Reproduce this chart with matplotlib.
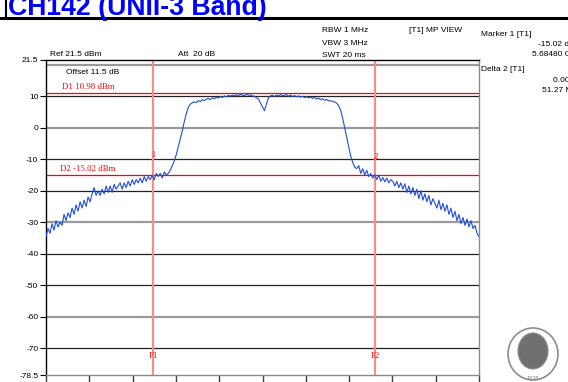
import numpy as np
import matplotlib.pyplot as plt
from matplotlib.patches import Ellipse
from matplotlib.lines import Line2D

f_start, f_stop = 5660.0, 5760.0
level = [
    -34.5, -32.0, -33.5, -30.5, -32.5, -29.5, -31.5, -30.0, -31.0, -27.5,
    -29.5, -27.0, -28.5, -25.5, -27.5, -24.5, -26.5, -23.5, -25.5, -23.0,
    -25.0, -22.0, -23.5, -21.0, -19.0, -21.5, -20.0, -21.5, -19.5, -21.0,
    -18.5, -20.5, -18.5, -20.5, -18.0, -19.5, -18.5, -17.5, -19.5, -17.5,
    -19.0, -17.0, -18.5, -16.5, -18.0, -16.5, -17.5, -16.0, -17.5, -15.5,
    -17.0, -15.5, -16.5, -15.0, -16.5, -14.5, -15.5, -14.5, -16.0, -14.0,
    -15.0, -14.5, -13.5, -12.0, -10.5, -8.5, -6.0, -3.5, -1.0, 2.0,
    4.5, 6.5, 7.5, 7.9, 8.2, 8.0, 8.6, 8.3, 8.9, 8.6,
    9.1, 9.3, 8.9, 9.5, 9.2, 9.7, 9.4, 9.9, 9.6, 10.1,
    9.8, 10.3, 10.0, 10.4, 10.1, 10.5, 10.2, 10.6, 10.3, 10.2,
    10.6, 10.3, 10.4, 10.1, 10.0, 9.5, 9.1, 7.8, 6.6, 5.4,
    7.6, 9.5, 10.1, 10.3, 9.9, 10.4, 10.1, 10.5, 10.2, 10.3,
    10.5, 10.0, 10.4, 9.9, 10.2, 9.8, 10.1, 9.7, 10.0, 9.6,
    9.8, 9.5, 9.7, 9.3, 9.6, 9.1, 9.4, 8.9, 9.2, 8.7,
    9.0, 8.5, 8.6, 8.3, 8.2, 7.8, 7.0, 5.5, 3.0, 0.0,
    -3.0, -6.0, -9.0, -11.0, -12.5, -13.0, -12.0, -14.5, -13.0, -15.0,
    -13.5, -15.5, -14.5, -16.0, -14.8, -16.5, -15.0, -17.0, -15.8, -17.2,
    -16.0, -17.5, -16.5, -17.0, -18.5, -17.0, -19.0, -17.5, -19.5, -17.8,
    -20.5, -18.5, -21.0, -19.0, -21.5, -19.5, -22.5, -20.0, -23.0, -21.0,
    -23.5, -21.5, -24.5, -22.5, -24.0, -25.5, -23.0, -26.0, -24.0, -26.5,
    -24.5, -27.5, -25.5, -28.5, -26.5, -29.5, -27.5, -30.5, -28.5, -31.0,
    -29.0, -31.5, -29.5, -32.0, -31.0, -33.5, -34.5,
]
freq = np.linspace(f_start, f_stop, len(level))

y_ticks = [21.5, 10, 0, -10, -20, -30, -40, -50, -60, -70, -78.5]
y_labels = ["21.5", "10", "0", "-10", "-20", "-30", "-40", "-50", "-60", "-70", "-78.5"]
grid_dark = [10, -10, -20, -40, -50, -70]
grid_gray = [20, 0, -30, -60]

d1_level = 10.98
d2_level = -15.02
f1 = 5684.8
f2 = f1 + 51.27

W, H = 568, 382
fig = plt.figure(figsize=(W / 100, H / 100), dpi=100)
ax = fig.add_axes([46 / W, 7 / H, 433 / W, 315 / H])
ax.set_xlim(f_start, f_stop)
ax.set_ylim(-78.5, 21.5)

for g in grid_gray:
    ax.axhline(g, color="#9a9a9a", lw=1.6, zorder=1)
for g in grid_dark:
    ax.axhline(g, color="#222222", lw=0.9, zorder=1)

# display lines and frequency lines
ax.axhline(d1_level, color="#ff0000", lw=0.9, zorder=2)
ax.axhline(d2_level, color="#ff0000", lw=0.9, zorder=2)
ax.axvline(f1, color="#ff8a8a", lw=1.5, zorder=2)
ax.axvline(f2, color="#ff8a8a", lw=1.5, zorder=2)

ax.plot(freq, level, color="#1f4fd8", lw=0.8, zorder=3)

serif = "Liberation Serif"
ax.text(f_start + 3.6, d1_level + 0.6, "D1 10.98 dBm", color="#ff0000",
        family=serif, fontsize=6.3, va="bottom")
ax.text(f_start + 3.2, d2_level + 0.6, "D2 -15.02 dBm", color="#ff0000",
        family=serif, fontsize=6.3, va="bottom")
ax.text(f1, -72.5, "F1", color="#ff0000", family=serif, fontsize=6.3,
        ha="center", va="center")
ax.text(f2, -72.5, "F2", color="#ff0000", family=serif, fontsize=6.3,
        ha="center", va="center")
ax.text(f1, -9.8, "1", color="#cc0000", family=serif, fontsize=5.5,
        ha="center", va="bottom")
ax.text(f2, -10.5, "2", color="#ff0000", family=serif, fontsize=6.3,
        ha="center", va="bottom")
ax.text(f_start + 4.6, 17.2, "Offset 11.5 dB", family="Liberation Sans",
        fontsize=6, va="baseline")

ax.set_yticks(y_ticks)
ax.set_yticklabels(y_labels, fontsize=6, family="Liberation Sans")
ax.set_xticks(np.arange(f_start, f_stop + 1, 10))
ax.set_xticklabels([])
ax.tick_params(axis="y", length=4, width=0.8, pad=1.5)
ax.tick_params(axis="x", length=7, width=1.0, color="#404040")

ax.spines["left"].set_color("#000000")
ax.spines["top"].set_color("#000000")
ax.spines["right"].set_color("#8a8a8a")
ax.spines["bottom"].set_color("#8a8a8a")
for s in ax.spines.values():
    s.set_linewidth(1.0)


def ftext(x, y, s, **kw):
    # x, y in pixels from top-left
    fig.text(x / W, 1 - y / H, s, va="baseline", family="Liberation Sans",
             fontsize=6, **kw)


# title, partly cut off at the top of the page (as in the screenshot)
fig.text(8 / W, 1 - 15 / H, "CH142 (UNII-3 Band)", color="#0000ff",
         fontsize=19.2, fontweight="bold", family="Liberation Sans",
         va="baseline")
fig.add_artist(Line2D([6 / W, 6 / W], [1.0, 1 - 17 / H], color="black",
                      lw=1.5, transform=fig.transFigure))
fig.add_artist(Line2D([0, 1], [1 - 17.5 / H, 1 - 17.5 / H], color="black",
                      lw=2.2, transform=fig.transFigure))

ftext(50, 56.5, "Ref 21.5 dBm")
ftext(178, 56.5, "Att  20 dB")
ftext(322.5, 32.5, "RBW 1 MHz")
ftext(322.5, 44.8, "VBW 3 MHz")
ftext(322.5, 57, "SWT 20 ms")
ftext(409, 32.5, "[T1] MP VIEW")
ftext(481, 36, "Marker 1 [T1]")
ftext(538, 46.5, "-15.02 dBm")
ftext(532.5, 56.5, "5.68480 GHz")
ftext(481, 71, "Delta 2 [T1]")
ftext(553, 81.5, "0.00 dB")
ftext(542.5, 91.5, "51.27 MHz")

# seal in the bottom right corner
fig.add_artist(Ellipse((533 / W, 1 - 354 / H), 50 / W, 52 / H,
                       transform=fig.transFigure, fc="white", ec="#8c8c8c",
                       lw=1.2))
fig.add_artist(Ellipse((533 / W, 1 - 351 / H), 30 / W, 36 / H,
                       transform=fig.transFigure, fc="#707070", ec="#8c8c8c",
                       lw=0.8))
fig.text(533 / W, 1 - 380 / H, "1828", fontsize=4, color="#808080",
         ha="center", va="baseline", family="Liberation Sans")

fig.savefig("out.png", dpi=100)
